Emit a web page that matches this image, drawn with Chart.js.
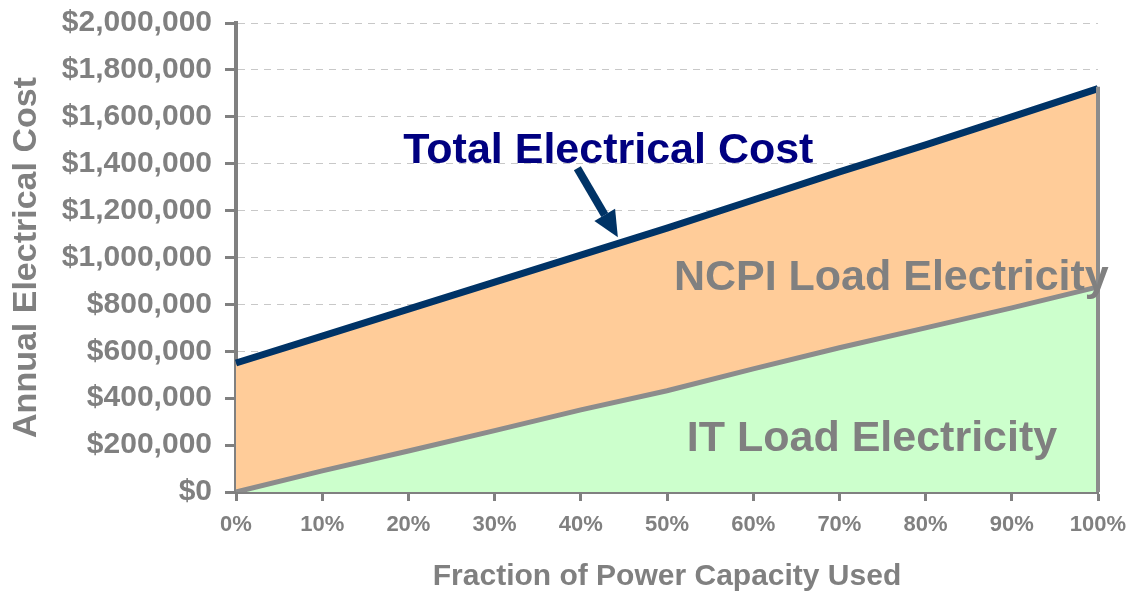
<!DOCTYPE html>
<html>
<head>
<meta charset="utf-8">
<script src="https://cdn.jsdelivr.net/npm/chart.js@4/dist/chart.umd.min.js"></script>
<style>
  html, body { margin: 0; padding: 0; background: #fff; }
  #wrap { width: 1132px; height: 595px; }
</style>
</head>
<body>
<div id="wrap"><canvas id="chart1"></canvas></div>
<script>
// data
var capacityLabels = ['0%', '10%', '20%', '30%', '40%', '50%', '60%', '70%', '80%', '90%', '100%'];
var itLoad = [0, 90000, 175000, 262000, 350000, 432000, 525000, 615000, 700000, 785000, 875000];
var totalCost = [550000, 665000, 780000, 895000, 1010000, 1125000, 1245000, 1365000, 1480000, 1600000, 1720000];

// callout texts, placed in data units (category index, dollars)
var notes = [
    { text: 'Total Electrical Cost', x: 1.94, y: 1403000, color: '#000080' },
    { text: 'NCPI Load Electricity', x: 5.08, y: 863000, color: '#808080' },
    { text: 'IT Load Electricity', x: 5.23, y: 174000, color: '#808080' }
];
var arrowFrom = { x: 3.96, y: 1381000 };
var arrowTo = { x: 4.43, y: 1086000 };

var grey = '#808080';
var font = "'Liberation Sans', Arial, sans-serif";

var calloutPlugin = {
    id: 'callouts',
    afterDatasetsDraw: function(chart) {
        var ctx = chart.ctx;
        var xs = chart.scales.x, ys = chart.scales.y;

        // right edge of the NCPI area
        var last = totalCost.length - 1;
        var ex = xs.getPixelForValue(last);
        ctx.save();
        ctx.strokeStyle = '#8c8c8c';
        ctx.lineWidth = 4;
        ctx.beginPath();
        ctx.moveTo(ex, ys.getPixelForValue(totalCost[last]) - 2);
        ctx.lineTo(ex, ys.getPixelForValue(0));
        ctx.stroke();
        ctx.restore();

        // texts
        ctx.save();
        ctx.font = 'bold 43px ' + font;
        ctx.textBaseline = 'alphabetic';
        ctx.textAlign = 'left';
        notes.forEach(function(n) {
            ctx.fillStyle = n.color;
            ctx.fillText(n.text, xs.getPixelForValue(n.x), ys.getPixelForValue(n.y));
        });

        // arrow
        var x1 = xs.getPixelForValue(arrowFrom.x), y1 = ys.getPixelForValue(arrowFrom.y);
        var x2 = xs.getPixelForValue(arrowTo.x), y2 = ys.getPixelForValue(arrowTo.y);
        var ang = Math.atan2(y2 - y1, x2 - x1);
        var headLen = 26, headW = 12;
        var bx = x2 - headLen * Math.cos(ang), by = y2 - headLen * Math.sin(ang);
        ctx.strokeStyle = '#003366';
        ctx.fillStyle = '#003366';
        ctx.lineWidth = 8;
        ctx.beginPath();
        ctx.moveTo(x1, y1);
        ctx.lineTo(bx, by);
        ctx.stroke();
        ctx.beginPath();
        ctx.moveTo(x2, y2);
        ctx.lineTo(bx + headW * Math.sin(ang), by - headW * Math.cos(ang));
        ctx.lineTo(bx - headW * Math.sin(ang), by + headW * Math.cos(ang));
        ctx.closePath();
        ctx.fill();
        ctx.restore();
    }
};

var ctx = document.getElementById('chart1').getContext('2d');
var myChart = new Chart(ctx, {
    type: 'line',
    data: {
        labels: capacityLabels,
        datasets: [{
            label: 'IT Load Electricity',
            data: itLoad,
            fill: 'origin',
            backgroundColor: '#ccffcc',
            borderColor: '#8c8c8c',
            borderWidth: 5,
            pointRadius: 0,
            tension: 0,
            order: 2
        }, {
            label: 'NCPI Load Electricity',
            data: totalCost,
            fill: '-1',
            backgroundColor: '#ffcc99',
            borderColor: '#8c8c8c',
            borderWidth: 4,
            pointRadius: 0,
            tension: 0,
            order: 3
        }, {
            label: 'Total Electrical Cost',
            data: totalCost,
            fill: false,
            borderColor: '#003366',
            borderWidth: 7,
            pointRadius: 0,
            tension: 0,
            order: 1
        }]
    },
    options: {
        responsive: true,
        maintainAspectRatio: false,
        animation: false,
        layout: {
            padding: { top: 23, right: 34, left: 0, bottom: 0 }
        },
        plugins: {
            legend: { display: false },
            tooltip: { enabled: false }
        },
        scales: {
            x: {
                offset: false,
                grid: {
                    drawOnChartArea: false,
                    drawTicks: true,
                    tickLength: 9,
                    tickColor: grey,
                    tickWidth: 3
                },
                border: { color: grey, width: 4 },
                ticks: {
                    color: grey,
                    padding: 11,
                    maxRotation: 0,
                    autoSkip: false,
                    font: { family: font, size: 22, weight: 'bold' }
                },
                title: {
                    display: true,
                    text: 'Fraction of Power Capacity Used',
                    color: grey,
                    padding: { top: 0, bottom: 0 },
                    font: { family: font, size: 30, weight: 'bold' }
                },
                afterFit: function(scale) {
                    scale.height = 103;
                    scale.paddingLeft = 0;
                    scale.paddingRight = 0;
                }
            },
            y: {
                min: 0,
                max: 2000000,
                grid: {
                    color: '#c8c8c8',
                    lineWidth: 1,
                    tickLength: 11,
                    tickColor: grey,
                    tickWidth: 3
                },
                border: { color: grey, width: 4, dash: [7, 6] },
                ticks: {
                    stepSize: 200000,
                    color: grey,
                    padding: 13,
                    font: { family: font, size: 30, weight: 'bold' },
                    callback: function(v) { return '$' + Number(v).toLocaleString('en-US'); }
                },
                title: {
                    display: true,
                    text: 'Annual Electrical Cost',
                    color: grey,
                    padding: { top: 6, bottom: 0 },
                    font: { family: font, size: 34, weight: 'bold' }
                },
                afterFit: function(scale) {
                    scale.width = 236;
                    scale.paddingTop = 0;
                    scale.paddingBottom = 0;
                }
            }
        }
    },
    plugins: [calloutPlugin]
});
</script>
</body>
</html>
